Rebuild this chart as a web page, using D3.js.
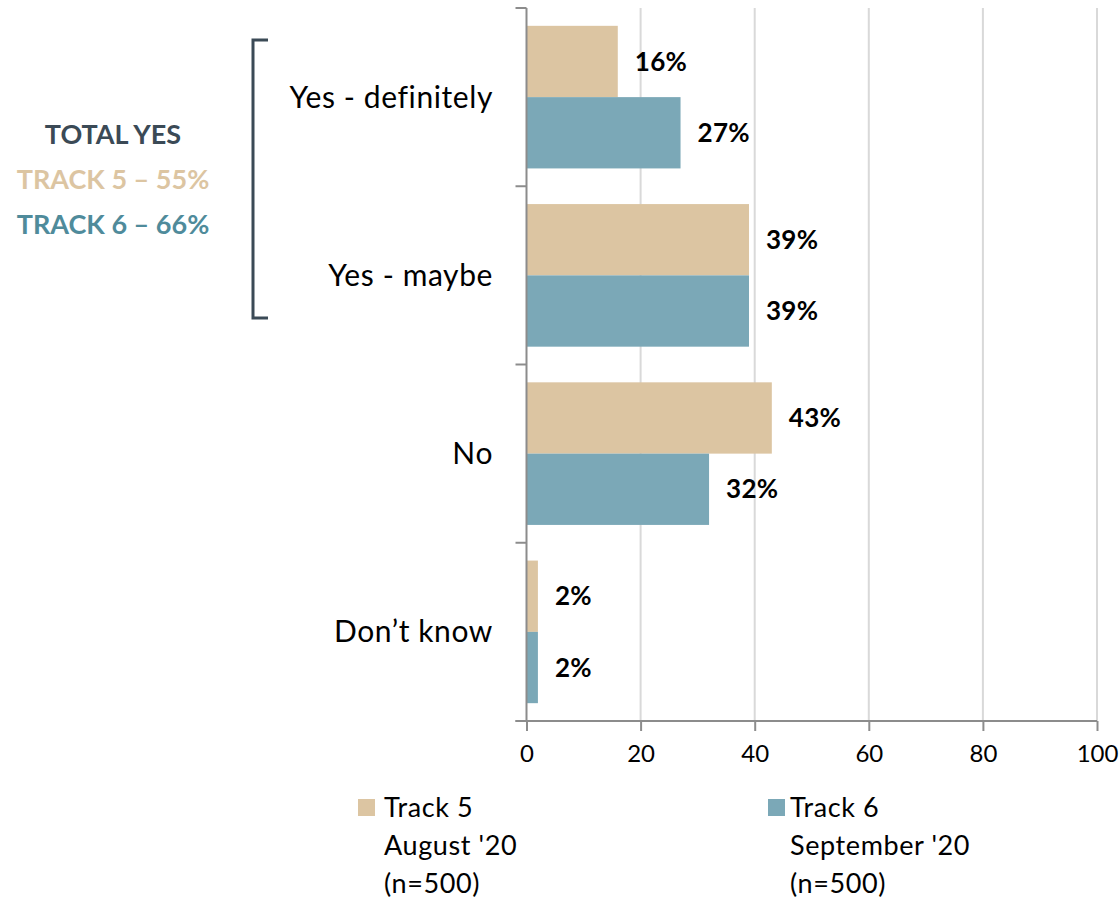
<!DOCTYPE html>
<html>
<head>
<meta charset="utf-8">
<script src="https://cdn.jsdelivr.net/npm/d3@7"></script>
<style>
  body { margin: 0; background: #fff; }
  svg { font-family: Lato, "Open Sans", sans-serif; }
</style>
</head>
<body>
<svg width="1119" height="899"></svg>
<script>
// data
const categories = ["Yes - definitely", "Yes - maybe", "No", "Don\u2019t know"];
const seriesNames = ["Track 5", "Track 6"];
const track5 = [16, 39, 43, 2];
const track6 = [27, 39, 32, 2];
const xTicks = [0, 20, 40, 60, 80, 100];
const legendLines = [
  ["Track 5", "August '20", "(n=500)"],
  ["Track 6", "September '20", "(n=500)"]
];
const totalLines = ["TOTAL YES", "TRACK 5 \u2013 55%", "TRACK 6 \u2013 66%"];

const colors = ["#dcc5a2", "#7ba8b7"];
const totalColors = ["#3b4a56", "#dcc5a2", "#4f8b9b"];

const svg = d3.select("svg");
const plotLeft = 526.5, plotRight = 1097, plotTop = 8, plotBottom = 721;

const x = d3.scaleLinear().domain([0, 100]).range([plotLeft, plotRight]);
const y = d3.scaleBand().domain(categories).range([plotTop, plotBottom]).paddingInner(0.2).paddingOuter(0.1);
// bands without padding for ticks
const yBand = d3.scaleBand().domain(categories).range([plotTop, plotBottom]);
const sub = d3.scaleBand().domain(seriesNames).range([0, y.bandwidth()]);

// gridlines
svg.append("g")
  .selectAll("line")
  .data(xTicks.slice(1))
  .enter().append("line")
  .attr("x1", d => x(d)).attr("x2", d => x(d))
  .attr("y1", plotTop).attr("y2", plotBottom)
  .attr("stroke", "#d9d9d9").attr("stroke-width", 2);

// bars
const rows = categories.map((c, i) => ({ cat: c, vals: [track5[i], track6[i]] }));
const grp = svg.append("g").selectAll("g")
  .data(rows)
  .enter().append("g")
  .attr("transform", d => `translate(0,${y(d.cat)})`);

grp.selectAll("rect")
  .data(d => d.vals.map((v, j) => ({ v, s: seriesNames[j], j })))
  .enter().append("rect")
  .attr("x", x(0))
  .attr("y", d => sub(d.s))
  .attr("width", d => x(d.v) - x(0))
  .attr("height", sub.bandwidth())
  .attr("fill", d => colors[d.j]);

grp.selectAll("text")
  .data(d => d.vals.map((v, j) => ({ v, s: seriesNames[j] })))
  .enter().append("text")
  .attr("x", d => x(d.v) + 17)
  .attr("y", d => sub(d.s) + sub.bandwidth() / 2)
  .attr("dy", "0.35em")
  .style("font-size", "26px")
  .style("font-weight", "bold")
  .style("letter-spacing", "0.3px")
  .attr("fill", "#000")
  .text(d => d.v + "%");

// y axis
const yAxis = svg.append("g");
yAxis.append("line")
  .attr("x1", plotLeft).attr("x2", plotLeft).attr("y1", plotTop).attr("y2", plotBottom)
  .attr("stroke", "#8c8c8c").attr("stroke-width", 2);
yAxis.selectAll("line.tick")
  .data(categories.map(c => yBand(c)).concat([plotBottom]))
  .enter().append("line").attr("class", "tick")
  .attr("x1", plotLeft - 11).attr("x2", plotLeft)
  .attr("y1", d => d).attr("y2", d => d)
  .attr("stroke", "#8c8c8c").attr("stroke-width", 2);
yAxis.selectAll("text")
  .data(categories)
  .enter().append("text")
  .attr("x", 493)
  .attr("y", d => yBand(d) + yBand.bandwidth() / 2)
  .attr("dy", "0.35em")
  .attr("text-anchor", "end")
  .style("font-size", "30px")
  .style("letter-spacing", "0.6px")
  .attr("fill", "#000")
  .text(d => d);

// x axis
const xAxis = svg.append("g").attr("transform", `translate(0,${plotBottom})`)
  .call(d3.axisBottom(x).tickValues(xTicks).tickSize(10).tickPadding(14));
xAxis.select(".domain").attr("stroke", "#8c8c8c").attr("stroke-width", 2)
  .attr("d", `M${plotLeft - 11},0H${plotRight}`);
xAxis.selectAll(".tick line").attr("stroke", "#8c8c8c").attr("stroke-width", 2);
xAxis.selectAll(".tick text")
  .style("font-size", "24px")
  .style("font-family", "Lato, 'Open Sans', sans-serif")
  .attr("fill", "#000");

// bracket
svg.append("path")
  .attr("d", "M268,40H253V318H268")
  .attr("fill", "none")
  .attr("stroke", "#3b4a56")
  .attr("stroke-width", 3);

// total yes annotation
svg.append("g").selectAll("text")
  .data(totalLines)
  .enter().append("text")
  .attr("x", 113)
  .attr("y", (d, i) => 135 + i * 45)
  .attr("dy", "0.35em")
  .attr("text-anchor", "middle")
  .style("font-size", "27px")
  .style("font-weight", "bold")
  .attr("fill", (d, i) => totalColors[i])
  .text(d => d);

// legend
const legX = [358, 768];
const legend = svg.append("g");
legendLines.forEach((lines, i) => {
  legend.append("rect")
    .attr("x", legX[i]).attr("y", 799)
    .attr("width", 17).attr("height", 17)
    .attr("fill", colors[i]);
  lines.forEach((t, k) => {
    legend.append("text")
      .attr("x", legX[i] + (i === 0 ? 26 : 22))
      .attr("y", 808 + k * 38)
      .attr("dy", "0.35em")
      .style("font-size", "27px")
      .style("letter-spacing", "0.6px")
      .attr("fill", "#000")
      .text(t);
  });
});
</script>
</body>
</html>
